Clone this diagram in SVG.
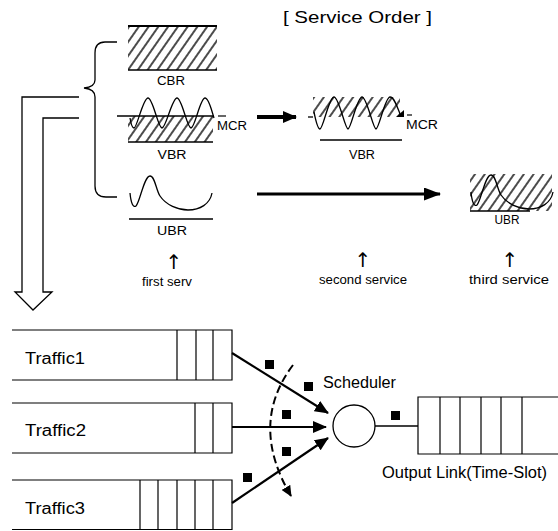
<svg xmlns="http://www.w3.org/2000/svg" width="558" height="531" viewBox="0 0 558 531">
<style>
text{font-family:"Liberation Sans",Arial,sans-serif;fill:#000}
.lbl{font-size:12px}
.big{font-size:16px}
.ln{stroke:#000;fill:none;stroke-width:1.3}
.thin{stroke:#000;fill:none;stroke-width:1.2}
.pk{fill:#000}
.arr{font-family:"DejaVu Sans",sans-serif;font-size:20px}
</style>
<defs>
<pattern id="hatch" patternUnits="userSpaceOnUse" width="8" height="8" patternTransform="rotate(35)">
<line x1="1" y1="-1" x2="1" y2="9" stroke="#000" stroke-width="1.4"/>
</pattern>
<marker id="ah" markerUnits="userSpaceOnUse" markerWidth="14" markerHeight="12" refX="13" refY="6" orient="auto">
<path d="M0,0 L14,6 L0,12 z" fill="#000"/>
</marker>
<marker id="ahBig" markerUnits="userSpaceOnUse" markerWidth="17" markerHeight="13" refX="16" refY="6.5" orient="auto">
<path d="M0,0 L17,6.5 L0,13 z" fill="#000"/>
</marker>
<marker id="ahSm" markerUnits="userSpaceOnUse" markerWidth="11" markerHeight="10" refX="10" refY="5" orient="auto">
<path d="M0,0 L11,5 L0,10 z" fill="#000"/>
</marker>
</defs>

<rect width="558" height="531" fill="#fff"/>

<text id="title" x="283" y="23" font-size="17px" textLength="149" lengthAdjust="spacingAndGlyphs">[ Service Order ]</text>

<g id="brace">
<path class="ln" d="M117,42 L105,42 Q95,42 95,53 L95,80 Q95,87 84,88 Q95,89 95,97 L95,186 Q95,197 106,197 L117,197"/>
</g>

<g id="cbr">
<rect x="128" y="26" width="89" height="44" fill="url(#hatch)"/>
<line x1="128" y1="26" x2="217" y2="26" stroke="#000" stroke-width="2"/>
<line x1="128" y1="70" x2="217" y2="70" stroke="#000" stroke-width="1.5"/>
<text x="171" y="85" class="lbl" text-anchor="middle" textLength="28" lengthAdjust="spacingAndGlyphs">CBR</text>
</g>

<g id="vbr1">
<rect x="128" y="116" width="85" height="26" fill="url(#hatch)"/>
<line class="ln" x1="117" y1="116" x2="214" y2="116"/>
<path class="ln" d="M130,118 C131,124 132,128 134,128 C137,128 143,98 148,98 C153,98 158,128 162,128 C166,128 172,98 177,98 C182,98 187,128 191,128 C195,128 200,98 205,98 C209,98 212,112 214,118"/>
<line x1="128" y1="142" x2="213" y2="142" stroke="#000" stroke-width="1.5"/>
<line class="thin" x1="218" y1="116" x2="226" y2="116"/>
<text x="217" y="130" class="lbl" textLength="30" lengthAdjust="spacingAndGlyphs">MCR</text>
<text x="172" y="159" class="lbl" text-anchor="middle" textLength="29" lengthAdjust="spacingAndGlyphs">VBR</text>
</g>

<g id="vbr2">
<rect x="313" y="97" width="87" height="20" fill="url(#hatch)"/>
<line class="ln" x1="308" y1="117" x2="313" y2="117"/>
<path class="ln" d="M314,112 C316,122 318,129 320,129 C323,129 329,97 334,97 C339,97 345,129 348,129 C351,129 357,97 362,97 C367,97 373,129 376,129 C379,129 385,97 390,97 C394,97 397,106 400,114"/>
<path d="M396,117 L404,117 L404,110 z" fill="#000"/>
<line x1="320" y1="140" x2="402" y2="140" stroke="#000" stroke-width="1.5"/>
<line class="thin" x1="407" y1="115" x2="412" y2="115"/>
<text x="406" y="129" class="lbl" textLength="32" lengthAdjust="spacingAndGlyphs">MCR</text>
<text x="362" y="159" class="lbl" text-anchor="middle" textLength="26" lengthAdjust="spacingAndGlyphs">VBR</text>
</g>

<g id="ubr1">
<path class="ln" d="M130,193 C131,203 133,208 136,206 C140,202 144,176 150,176 C155,176 156,190 160,196 C166,205 178,210 188,210 C200,210 210,204 212,193"/>
<line x1="129" y1="219" x2="213" y2="219" stroke="#000" stroke-width="1.5"/>
<text x="172" y="235" class="lbl" text-anchor="middle" textLength="30" lengthAdjust="spacingAndGlyphs">UBR</text>
</g>

<g id="ubr2">
<rect x="470" y="174" width="82" height="37" fill="url(#hatch)"/>
<path class="ln" transform="translate(341,-1)" d="M130,193 C131,203 133,208 136,206 C140,202 144,176 150,176 C155,176 156,190 160,196 C166,205 178,210 188,210 C200,210 210,204 212,193"/>
<line x1="470" y1="211" x2="530" y2="211" stroke="#000" stroke-width="1.5"/>
<text x="507" y="224" class="lbl" text-anchor="middle" textLength="25" lengthAdjust="spacingAndGlyphs">UBR</text>
</g>

<g id="order-labels">
<text x="174" y="269" class="arr" text-anchor="middle">↑</text>
<text x="167" y="286" class="lbl" text-anchor="middle" textLength="50" lengthAdjust="spacingAndGlyphs">first serv</text>
<text x="363" y="267" class="arr" text-anchor="middle">↑</text>
<text x="363" y="284" class="lbl" text-anchor="middle" textLength="88" lengthAdjust="spacingAndGlyphs">second service</text>
<text x="510" y="267" class="arr" text-anchor="middle">↑</text>
<text x="509" y="284" class="lbl" text-anchor="middle" textLength="80" lengthAdjust="spacingAndGlyphs">third service</text>
</g>

<g id="hollow-arrow">
<path class="ln" d="M79,97 L22,97 L22,292 L15,292 L33,310 L52,292 L43,292 L43,118 L79,118"/>
</g>

<g id="traffic1">
<path class="thin" d="M12,330 L232,330 L232,380 L12,380 M177,330 L177,380 M196,330 L196,380 M213,330 L213,380"/>
<text x="25" y="364" class="big" textLength="60" lengthAdjust="spacingAndGlyphs">Traffic1</text>
</g>
<g id="traffic2">
<path class="thin" d="M12,403 L232,403 L232,453 L12,453 M195,403 L195,453 M213,403 L213,453"/>
<text x="25" y="436" class="big" textLength="61" lengthAdjust="spacingAndGlyphs">Traffic2</text>
</g>
<g id="traffic3">
<path class="thin" d="M12,480 L232,480 L232,529.5 L12,529.5 M140,480 L140,529.5 M158,480 L158,529.5 M177,480 L177,529.5 M195,480 L195,529.5 M213,480 L213,529.5"/>
<text x="25" y="514" class="big" textLength="60" lengthAdjust="spacingAndGlyphs">Traffic3</text>
</g>

<g id="scheduler">
<circle cx="354" cy="426" r="21" class="ln"/>
<text x="323" y="388" class="big" textLength="73" lengthAdjust="spacingAndGlyphs">Scheduler</text>
</g>

<g id="output-link">
<path class="thin" d="M558,397 L418,397 L418,454 L558,454 M440,397 L440,454 M460,397 L460,454 M481,397 L481,454 M501,397 L501,454 M522,397 L522,454"/>
<text x="382" y="478" class="big" textLength="165" lengthAdjust="spacingAndGlyphs">Output Link(Time-Slot)</text>
</g>

<g id="connectors">
<line x1="257" y1="117" x2="296" y2="117" stroke="#000" stroke-width="4" marker-end="url(#ah)"/>
<line x1="257" y1="194" x2="440" y2="194" stroke="#000" stroke-width="3" marker-end="url(#ahBig)"/>
<line x1="232" y1="353" x2="328" y2="413" stroke="#000" stroke-width="2.2" marker-end="url(#ah)"/>
<line x1="232" y1="427" x2="326" y2="427" stroke="#000" stroke-width="2.2" marker-end="url(#ah)"/>
<line x1="232" y1="503" x2="328" y2="438" stroke="#000" stroke-width="2.2" marker-end="url(#ah)"/>
<path d="M293,365 Q248.5,424 291,496" fill="none" stroke="#000" stroke-width="2" stroke-dasharray="8,4" marker-end="url(#ahSm)"/>
<line class="ln" x1="375" y1="426" x2="418" y2="426"/>
</g>

<g id="packets">
<rect class="pk" x="265" y="360" width="9" height="9"/>
<rect class="pk" x="304" y="382" width="9" height="9"/>
<rect class="pk" x="282" y="410" width="9" height="9"/>
<rect class="pk" x="282" y="447" width="9" height="9"/>
<rect class="pk" x="243" y="473" width="9" height="9"/>
<rect class="pk" x="391" y="411" width="9" height="9"/>
</g>
</svg>
